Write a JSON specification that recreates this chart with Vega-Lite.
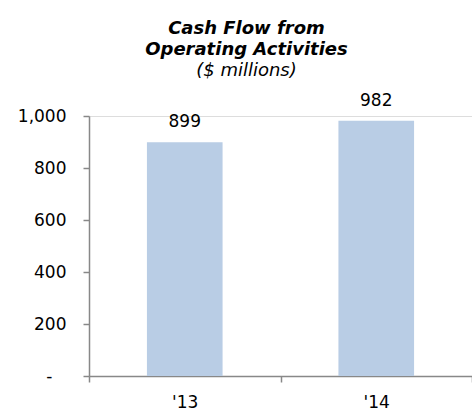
{
  "$schema": "https://vega.github.io/schema/vega-lite/v6.json",
  "width": 383,
  "height": 260,
  "autosize": {"type": "none"},
  "padding": {"left": 89, "top": 116, "right": 0, "bottom": 34},
  "background": "white",
  "title": {
    "text": ["Cash Flow from", "Operating Activities"],
    "subtitle": "($ millions)",
    "font": "DejaVu Sans",
    "fontSize": 18,
    "fontWeight": "bold",
    "fontStyle": "italic",
    "lineHeight": 21,
    "color": "#000000",
    "subtitleFont": "DejaVu Sans",
    "subtitleFontSize": 18,
    "subtitleFontStyle": "italic",
    "subtitleFontWeight": "normal",
    "subtitleColor": "#000000",
    "subtitlePadding": 3,
    "anchor": "middle",
    "dx": -34,
    "offset": 12
  },
  "data": {
    "values": [
      {"year": "'13", "value": 899},
      {"year": "'14", "value": 982}
    ]
  },
  "encoding": {
    "x": {
      "field": "year",
      "type": "nominal",
      "sort": null,
      "scale": {"paddingInner": 0, "paddingOuter": 0},
      "axis": {
        "title": null,
        "labelAngle": 0,
        "tickBand": "extent",
        "domainColor": "#888888",
        "domainWidth": 1.5,
        "tickColor": "#888888",
        "tickWidth": 1.5,
        "tickSize": 6,
        "labelFont": "DejaVu Sans",
        "labelFontSize": 17,
        "labelColor": "#000000",
        "labelPadding": 12
      }
    },
    "y": {
      "field": "value",
      "type": "quantitative",
      "scale": {"domain": [0, 1000], "nice": false},
      "axis": {
        "title": null,
        "values": [0, 200, 400, 600, 800, 1000],
        "labelExpr": "datum.value == 0 ? '-' : format(datum.value, ',')",
        "grid": false,
        "domainColor": "#888888",
        "domainWidth": 1.5,
        "tickColor": "#888888",
        "tickWidth": 1.5,
        "tickSize": 6,
        "labelFont": "DejaVu Sans",
        "labelFontSize": 17,
        "labelColor": "#000000",
        "labelPadding": {"condition": {"test": "datum.value == 0", "value": 31}, "value": 17}
      }
    }
  },
  "layer": [
    {"mark": {"type": "bar", "color": "#B9CDE5", "width": {"band": 0.395}}},
    {
      "mark": {"type": "text", "font": "DejaVu Sans", "fontSize": 17, "baseline": "alphabetic", "dy": -15, "color": "#000000"},
      "encoding": {"text": {"field": "value", "type": "quantitative"}}
    }
  ]
}
